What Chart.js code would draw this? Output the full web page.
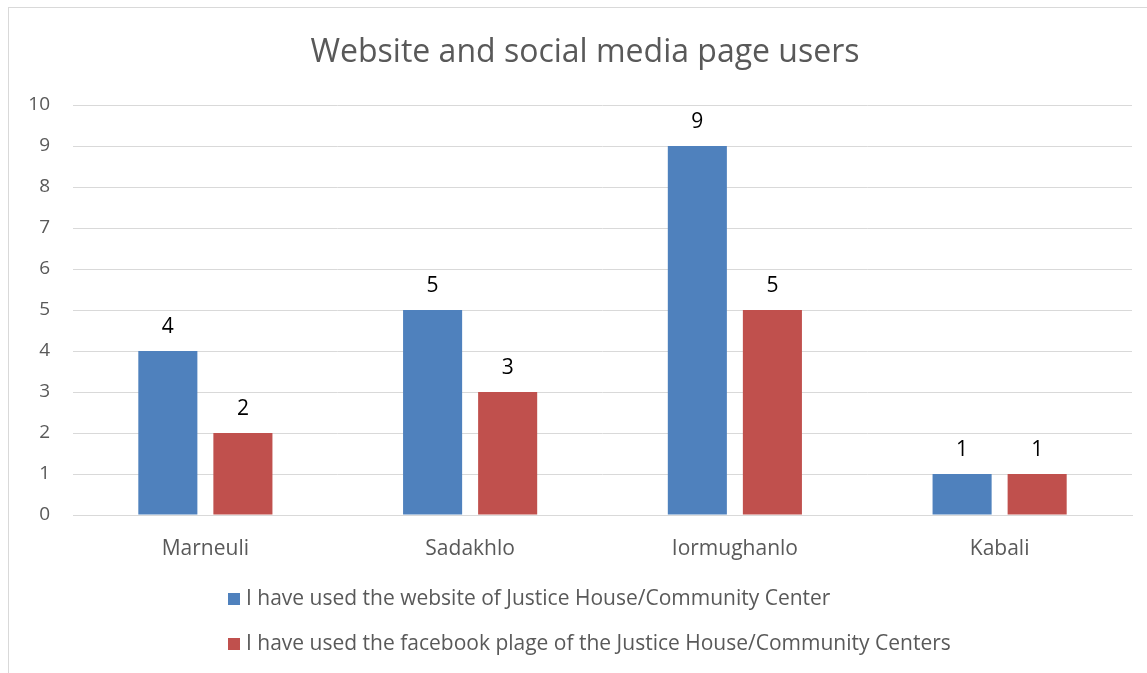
<!DOCTYPE html>
<html>
<head>
<meta charset="utf-8">
<script src="https://cdn.jsdelivr.net/npm/chart.js@4"></script>
<style>
  html, body { margin: 0; padding: 0; background: #fff; }
  #frame { position: absolute; left: 8px; top: 7px; width: 1200px; height: 700px;
           border-left: 1px solid #d9d9d9; border-top: 1px solid #d9d9d9; }
  #wrap { position: absolute; left: 0; top: 0; width: 1147px; height: 673px; }
</style>
</head>
<body>
<div id="frame"></div>
<div id="wrap"><canvas id="c" width="1147" height="673"></canvas></div>
<script>
const chartTitle = 'Website and social media page users';
const categories = ['Marneuli', 'Sadakhlo', 'Iormughanlo', 'Kabali'];
const websiteUsers = [4, 5, 9, 1];
const facebookUsers = [2, 3, 5, 1];
const seriesNames = [
  'I have used the website of Justice House/Community Center',
  'I have used the facebook plage of the Justice House/Community Centers'
];
const yTicks = [0, 1, 2, 3, 4, 5, 6, 7, 8, 9, 10];

const FONT = '"Open Sans", "Noto Sans", sans-serif';
const GREY = '#595959';

// Title, value labels and a stacked legend drawn on the canvas
const decorations = {
  id: 'decorations',
  afterDatasetsDraw(chart) {
    const ctx = chart.ctx;
    ctx.save();
    // value labels above each bar
    ctx.fillStyle = '#000';
    ctx.font = '21px ' + FONT;
    ctx.textAlign = 'center';
    ctx.textBaseline = 'middle';
    chart.data.datasets.forEach((ds, di) => {
      chart.getDatasetMeta(di).data.forEach((bar, i) => {
        ctx.fillText(String(ds.data[i]), bar.x, bar.y - 24);
      });
    });
    // title
    ctx.fillStyle = GREY;
    ctx.font = '32px ' + FONT;
    ctx.fillText(chartTitle, 585, 53);
    // legend, one entry per row
    ctx.textAlign = 'left';
    ctx.font = '21px ' + FONT;
    chart.data.datasets.forEach((ds, di) => {
      const cy = 599 + di * 45;
      ctx.fillStyle = ds.backgroundColor;
      ctx.fillRect(228, cy - 6, 12, 12);
      ctx.fillStyle = GREY;
      ctx.fillText(ds.label, 246, cy);
    });
    ctx.restore();
  }
};

new Chart(document.getElementById('c'), {
  type: 'bar',
  data: {
    labels: categories,
    datasets: [
      { label: seriesNames[0], data: websiteUsers, backgroundColor: '#4F81BD' },
      { label: seriesNames[1], data: facebookUsers, backgroundColor: '#C0504D' }
    ]
  },
  options: {
    responsive: false,
    animation: false,
    devicePixelRatio: 1,
    layout: { padding: { top: 105, right: 15, bottom: 98, left: 0 } },
    datasets: { bar: { categoryPercentage: 0.567, barPercentage: 0.787 } },
    plugins: {
      legend: { display: false },
      title: { display: false },
      tooltip: { enabled: false }
    },
    scales: {
      x: {
        grid: { display: false, drawTicks: false },
        border: { display: true, color: '#d9d9d9' },
        ticks: { color: GREY, font: { family: FONT, size: 21 }, padding: 21 },
        afterFit(s) { s.height = 60; }
      },
      y: {
        min: 0, max: 10,
        afterBuildTicks(s) { s.ticks = yTicks.map(v => ({ value: v })); },
        grid: { color: '#d9d9d9', drawTicks: false },
        border: { display: false },
        ticks: { color: GREY, font: { family: FONT, size: 19 }, padding: 23 },
        afterFit(s) { s.width = 73; }
      }
    }
  },
  plugins: [decorations]
});
</script>
</body>
</html>
